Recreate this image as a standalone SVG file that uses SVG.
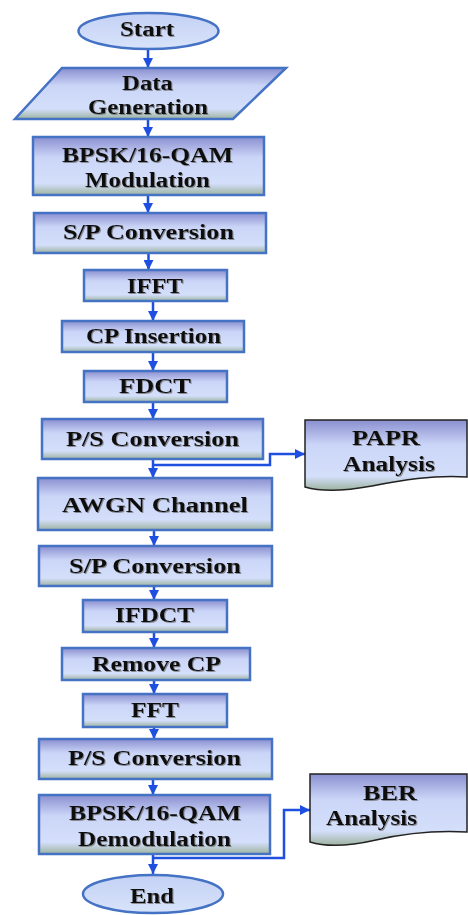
<svg xmlns="http://www.w3.org/2000/svg" width="468" height="915" viewBox="0 0 468 915">
<defs>
<linearGradient id="gBox" x1="0" y1="0" x2="0" y2="1">
<stop offset="0" stop-color="#8a8fd0"/>
<stop offset="0.35" stop-color="#cbd5f7"/>
<stop offset="0.8" stop-color="#d4dffb"/>
<stop offset="1" stop-color="#9db39f"/>
</linearGradient>
<linearGradient id="gEll" x1="0" y1="0" x2="0" y2="1">
<stop offset="0" stop-color="#c3d1f4"/>
<stop offset="1" stop-color="#d8e3fa"/>
</linearGradient>
<filter id="ts" x="-5%" y="-20%" width="115%" height="150%">
<feDropShadow dx="1" dy="1" stdDeviation="0.6" flood-color="#6a6a6a" flood-opacity="0.7"/>
</filter>
<marker id="arr" markerUnits="userSpaceOnUse" markerWidth="10" markerHeight="10" viewBox="0 0 10 10" refX="10" refY="5" orient="auto">
<path d="M0,0 L10,5 L0,10 z" fill="#1f4fe0"/>
</marker>
</defs>
<style>
.box{fill:url(#gBox);stroke:#4472c4;stroke-width:2.5}
.ell{fill:url(#gEll);stroke:#4472c4;stroke-width:2.5}
.doc{fill:url(#gBox);stroke:#222;stroke-width:1.5}
.t{font-family:"Liberation Serif","Times New Roman",serif;font-weight:bold;font-size:20px;fill:#111;filter:url(#ts)}
.c{fill:none;stroke:#1f4fe0;stroke-width:2.5;marker-end:url(#arr)}
</style>

<g id="connectors">
<path class="c" d="M148,50 V68"/>
<path class="c" d="M148,120 V137"/>
<path class="c" d="M148,196 V213"/>
<path class="c" d="M148.5,254 V270"/>
<path class="c" d="M153,302 V321"/>
<path class="c" d="M153,353 V371"/>
<path class="c" d="M153,403 V419"/>
<path class="c" d="M153,460 V478"/>
<path class="c" d="M153,465 H270 V454 H305"/>
<path class="c" d="M154,531 V546"/>
<path class="c" d="M154,587 V600"/>
<path class="c" d="M154,633 V648"/>
<path class="c" d="M154,681 V694"/>
<path class="c" d="M154,728 V739"/>
<path class="c" d="M153,780 V795"/>
<path class="c" d="M153,855 V874"/>
<path class="c" d="M153,858 H284 V810 H310"/>
</g>

<g id="start">
<ellipse class="ell" cx="148.5" cy="31" rx="70" ry="18"/>
<text class="t" x="120" y="36" textLength="54" lengthAdjust="spacingAndGlyphs">Start</text>
</g>

<g id="data-generation">
<polygon class="box" points="62,68 286,68 233,119 15,119"/>
<text class="t" x="122" y="90" textLength="51" lengthAdjust="spacingAndGlyphs">Data</text>
<text class="t" x="88" y="114" textLength="120" lengthAdjust="spacingAndGlyphs">Generation</text>
</g>

<g id="modulation">
<rect class="box" x="33" y="137" width="231" height="58"/>
<text class="t" x="62" y="162" textLength="171" lengthAdjust="spacingAndGlyphs">BPSK/16-QAM</text>
<text class="t" x="85" y="187" textLength="125" lengthAdjust="spacingAndGlyphs">Modulation</text>
</g>

<g id="sp1">
<rect class="box" x="34" y="213" width="232" height="40"/>
<text class="t" x="63" y="239" textLength="171" lengthAdjust="spacingAndGlyphs">S/P  Conversion</text>
</g>

<g id="ifft">
<rect class="box" x="84" y="270" width="143" height="31"/>
<text class="t" x="127" y="293" textLength="56" lengthAdjust="spacingAndGlyphs">IFFT</text>
</g>

<g id="cp-insertion">
<rect class="box" x="62" y="321" width="182" height="31"/>
<text class="t" x="86" y="343" textLength="135" lengthAdjust="spacingAndGlyphs">CP Insertion</text>
</g>

<g id="fdct">
<rect class="box" x="84" y="371" width="143" height="31"/>
<text class="t" x="119" y="393" textLength="72" lengthAdjust="spacingAndGlyphs">FDCT</text>
</g>

<g id="ps1">
<rect class="box" x="42" y="419" width="221" height="40"/>
<text class="t" x="66" y="446" textLength="173" lengthAdjust="spacingAndGlyphs">P/S  Conversion</text>
</g>

<g id="papr">
<path class="doc" d="M305,420 H467 V477 C432,475 402,480 372,486 C345,491 322,492 305,487 Z"/>
<text class="t" x="352" y="445" textLength="68" lengthAdjust="spacingAndGlyphs">PAPR</text>
<text class="t" x="343" y="471" textLength="92" lengthAdjust="spacingAndGlyphs">Analysis</text>
</g>

<g id="awgn">
<rect class="box" x="38" y="478" width="234" height="52"/>
<text class="t" x="62" y="512" textLength="186" lengthAdjust="spacingAndGlyphs">AWGN  Channel</text>
</g>

<g id="sp2">
<rect class="box" x="39" y="546" width="233" height="40"/>
<text class="t" x="69" y="573" textLength="172" lengthAdjust="spacingAndGlyphs">S/P  Conversion</text>
</g>

<g id="ifdct">
<rect class="box" x="83" y="600" width="144" height="32"/>
<text class="t" x="115" y="622" textLength="79" lengthAdjust="spacingAndGlyphs">IFDCT</text>
</g>

<g id="remove-cp">
<rect class="box" x="62" y="648" width="188" height="32"/>
<text class="t" x="92" y="671" textLength="129" lengthAdjust="spacingAndGlyphs">Remove CP</text>
</g>

<g id="fft">
<rect class="box" x="83" y="694" width="144" height="33"/>
<text class="t" x="131" y="717" textLength="48" lengthAdjust="spacingAndGlyphs">FFT</text>
</g>

<g id="ps2">
<rect class="box" x="39" y="739" width="233" height="40"/>
<text class="t" x="68" y="765" textLength="173" lengthAdjust="spacingAndGlyphs">P/S  Conversion</text>
</g>

<g id="demodulation">
<rect class="box" x="39" y="795" width="231" height="59"/>
<text class="t" x="69" y="820" textLength="172" lengthAdjust="spacingAndGlyphs">BPSK/16-QAM</text>
<text class="t" x="78" y="846" textLength="153" lengthAdjust="spacingAndGlyphs">Demodulation</text>
</g>

<g id="ber">
<path class="doc" d="M310,774 H467 V832 C432,830 402,834 376,840 C350,846 326,847 310,842 Z"/>
<text class="t" x="363" y="800" textLength="54" lengthAdjust="spacingAndGlyphs">BER</text>
<text class="t" x="326" y="825" textLength="91" lengthAdjust="spacingAndGlyphs">Analysis</text>
</g>

<g id="end">
<ellipse class="ell" cx="153" cy="894" rx="70" ry="19"/>
<text class="t" x="130" y="903" textLength="44" lengthAdjust="spacingAndGlyphs">End</text>
</g>
</svg>
